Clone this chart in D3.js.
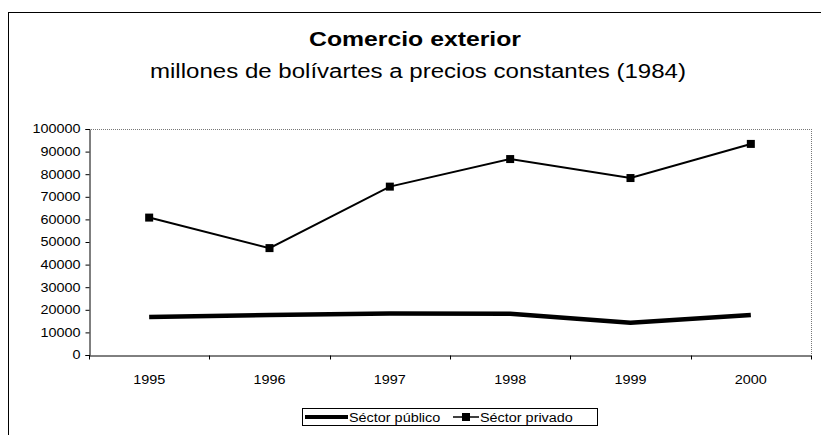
<!DOCTYPE html>
<html><head><meta charset="utf-8">
<script src="https://cdn.jsdelivr.net/npm/d3@7"></script>
<style>
html,body{margin:0;padding:0;background:#fff;}
text{font-family:"Liberation Sans",Arial,sans-serif;fill:#000;}
</style></head>
<body>
<svg id="c" width="821" height="435"></svg>
<script>
const years = ["1995","1996","1997","1998","1999","2000"];
const publico = [16800, 17700, 18400, 18300, 14300, 17700];
const privado = [60800, 47300, 74500, 86700, 78300, 93400];
const yTicks = [0,10000,20000,30000,40000,50000,60000,70000,80000,90000,100000];
const titleText = "Comercio exterior";
const subtitleText = "millones de bolívartes a precios constantes (1984)";
const legendNames = ["Séctor público", "Séctor privado"];

const svg = d3.select("#c");
const STRETCH = 1.2;
function stretch(sel, f){
  sel.each(function(){
    const l = this.getComputedTextLength();
    d3.select(this).attr("textLength", l*(f||STRETCH)).attr("lengthAdjust","spacingAndGlyphs");
  });
}

// outer frame
svg.append("rect").attr("x",8.5).attr("y",12.5).attr("width",830).attr("height",440)
  .attr("fill","none").attr("stroke","#000").attr("stroke-width",1);

// titles
svg.append("text").attr("x",415).attr("y",46).attr("text-anchor","middle")
  .style("font-size","20px").style("font-weight","bold").text(titleText)
  .attr("textLength",212).attr("lengthAdjust","spacingAndGlyphs");
svg.append("text").attr("x",418).attr("y",78).attr("text-anchor","middle")
  .style("font-size","20px").text(subtitleText)
  .attr("textLength",536).attr("lengthAdjust","spacingAndGlyphs");

const L = 89, R = 811, T = 129, B = 355;
const x = d3.scaleBand().domain(years).range([L, R]);
const y = d3.scaleLinear().domain([0,100000]).range([B, T]);

// plot area dotted top/right
svg.append("line").attr("x1",L).attr("x2",R).attr("y1",T+0.5).attr("y2",T+0.5)
  .attr("stroke","#777").attr("stroke-dasharray","1,1");
svg.append("line").attr("x1",R+0.5).attr("x2",R+0.5).attr("y1",T).attr("y2",B)
  .attr("stroke","#777").attr("stroke-dasharray","1,1");

// y axis
const ya = svg.append("g").attr("transform",`translate(${L+0.5},0)`)
  .call(d3.axisLeft(y).tickValues(yTicks).tickFormat(d3.format("d")).tickSize(4).tickPadding(5));
ya.select(".domain").attr("stroke","#000");
ya.selectAll("text").style("font-size","12px").attr("font-family",null);
stretch(ya.selectAll("text"));

// x axis
const xa = svg.append("g").attr("transform",`translate(0,${B+0.5})`)
  .call(d3.axisBottom(x).tickSize(0).tickPadding(20));
xa.select(".domain").attr("stroke","#000");
xa.selectAll("text").style("font-size","12px").attr("font-family",null);
stretch(xa.selectAll("text"));
xa.selectAll(".bnd").data(years.concat(["end"])).enter().append("line")
  .attr("x1",(d,i)=> i<years.length ? Math.round(x(d))+0.5 : R+0.5)
  .attr("x2",(d,i)=> i<years.length ? Math.round(x(d))+0.5 : R+0.5)
  .attr("y1",0).attr("y2",4).attr("stroke","#000");

const cx = d => x(d) + x.bandwidth()/2;

// public line
svg.append("path").datum(publico)
  .attr("d", d3.line().x((d,i)=>cx(years[i])).y(d=>y(d)))
  .attr("fill","none").attr("stroke","#000").attr("stroke-width",4.5).attr("stroke-linejoin","round");

// private line
svg.append("path").datum(privado)
  .attr("d", d3.line().x((d,i)=>cx(years[i])).y(d=>y(d)))
  .attr("fill","none").attr("stroke","#000").attr("stroke-width",2);
svg.selectAll(".mk").data(privado).enter().append("rect")
  .attr("x",(d,i)=>cx(years[i])-4).attr("y",d=>y(d)-4).attr("width",8).attr("height",8).attr("fill","#000");

// legend
const lg = svg.append("g");
lg.append("rect").attr("x",302.5).attr("y",408.5).attr("width",295).attr("height",17)
  .attr("fill","#fff").attr("stroke","#000");
lg.append("line").attr("x1",305).attr("x2",348).attr("y1",417).attr("y2",417).attr("stroke","#000").attr("stroke-width",4);
const t1 = lg.append("text").attr("x",349).attr("y",421.5).style("font-size","12px").text(legendNames[0]);
stretch(t1);
lg.append("line").attr("x1",453).attr("x2",479).attr("y1",417).attr("y2",417).attr("stroke","#000").attr("stroke-width",1.5);
lg.append("rect").attr("x",462).attr("y",413).attr("width",8).attr("height",8).attr("fill","#000");
const t2 = lg.append("text").attr("x",480).attr("y",421.5).style("font-size","12px").text(legendNames[1]);
stretch(t2);
</script>
</body></html>
